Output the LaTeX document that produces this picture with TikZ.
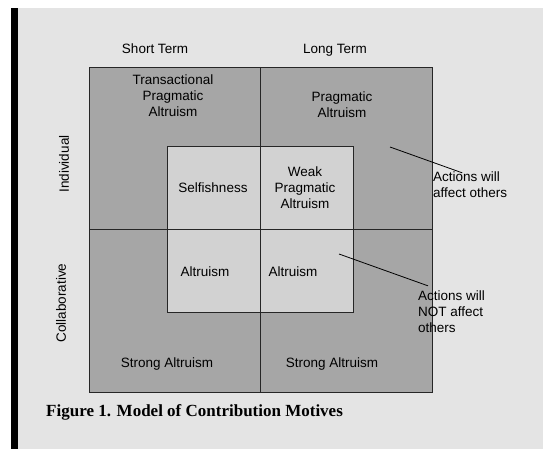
\documentclass[tikz,border=0pt]{standalone}
\usepackage{fontspec}
\setmainfont{Liberation Serif}
\setsansfont{Liberation Sans}
\usetikzlibrary{positioning}
\usetikzlibrary{calc}

\definecolor{paper}{HTML}{E4E4E4}
\definecolor{outerfill}{HTML}{A6A6A6}
\definecolor{innerfill}{HTML}{D2D2D2}

\begin{document}
\begin{tikzpicture}[x=1pt,y=-1pt,
    every node/.style={font=\sffamily\fontsize{13.5}{16}\selectfont,align=center,inner sep=0pt},
    grid/.style={draw=black!85,line width=0.8pt},
    side/.style={align=left,anchor=west}]
    \useasboundingbox (0,0) rectangle (543,449);
    % the page and the black edge
    \fill[white] (0,0) rectangle (543,449);
    \fill[paper] (11,8) rectangle (543,449);
    \fill[black] (11,8) rectangle (18,449);

    % the two squares and the cross
    \fill[outerfill] (89,67) rectangle (432,392);
    \fill[innerfill] (167,146) rectangle (353,312);
    \draw[grid] (89,67) rectangle (432,392);
    \draw[grid] (167,146) rectangle (353,312);
    \draw[grid] (260,67) -- (260,392);
    \draw[grid] (89,229) -- (432,229);

    % the axis labels
    \node (shortterm) at (155,49) {Short Term};
    \node (longterm) at (335,50) {Long Term};
    \node[rotate=90] (individual) at (64,164) {Individual};
    \node[rotate=90] (collab) at (61,303) {Collaborative};

    % the motives
    \node (transact) at (173,96) {Transactional\\Pragmatic\\Altruism};
    \node (pragmatic) at (342,105) {Pragmatic\\Altruism};
    \node (selfish) at (213,188) {Selfishness};
    \node (weak) at (305,188) {Weak\\Pragmatic\\Altruism};
    \node (altleft) at (205,272) {Altruism};
    \node (altright) at (293,272) {Altruism};
    \node (strongleft) at (167,364) {Strong Altruism};
    \node (strongright) at (332,364) {Strong Altruism};

    % the notes and their lines
    \node[side] (affect) at (433,185) {Actions will\\affect others};
    \node[side] (notaffect) at (418,312) {Actions will\\NOT affect\\others};
    \coordinate (affectpt) at (390,147);
    \coordinate (notpt) at (339,254);
    \draw[line width=0.8pt] (affectpt) to ([xshift=-8pt,yshift=-1pt]affect.north);
    \draw[line width=0.8pt] (notpt) to ([xshift=10pt,yshift=5pt]notaffect.north west);

    \node[anchor=west,font=\rmfamily\bfseries\fontsize{17}{20}\selectfont] (caption) at (46,412) {Figure 1. Model of Contribution Motives};
\end{tikzpicture}
\end{document}
